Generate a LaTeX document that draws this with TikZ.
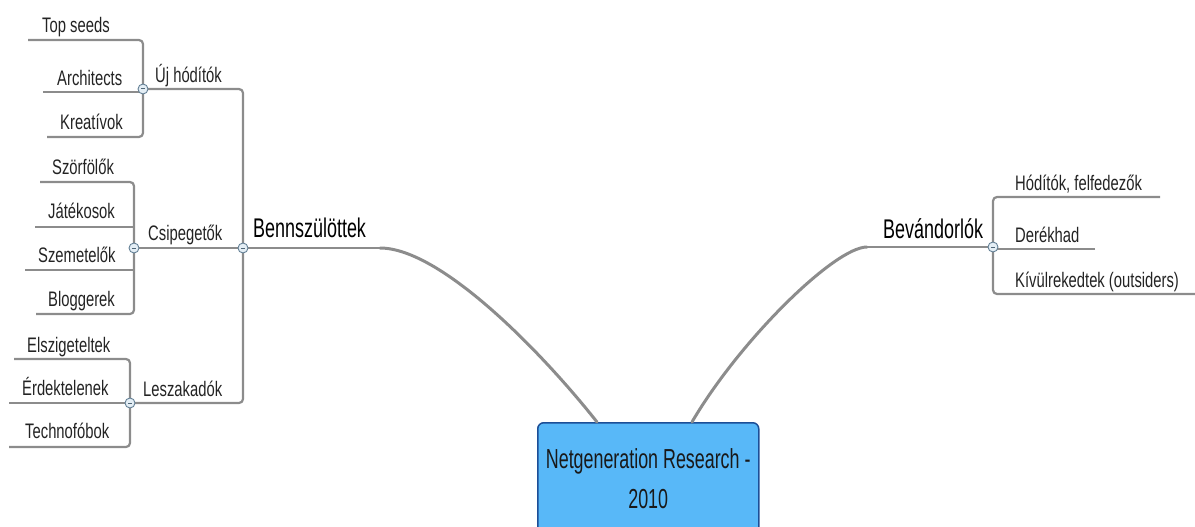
\documentclass[tikz,border=0pt]{standalone}
\usepackage{fontspec}
\setmainfont{Liberation Sans}
\newfontfamily\smallf[FakeStretch=0.705]{Liberation Sans}
\newfontfamily\bigf[FakeStretch=0.665]{Liberation Sans}
\newfontfamily\rootf[FakeStretch=0.65]{Liberation Sans}
\definecolor{linegray}{RGB}{140,140,140}
\definecolor{txtgray}{RGB}{35,35,35}
\definecolor{boxblue}{RGB}{88,184,248}
\definecolor{boxborder}{RGB}{28,78,150}
\definecolor{circfill}{RGB}{228,238,245}
\definecolor{circdraw}{RGB}{100,128,150}
\tikzset{
  lbl/.style={anchor=base west, inner sep=0pt, text=txtgray, font={\smallf\fontsize{21}{25}\selectfont}},
  biglbl/.style={anchor=base west, inner sep=0pt, text=black, font={\bigf\fontsize{27}{31}\selectfont}},
  branch/.style={draw=linegray, line width=2.2pt, rounded corners=4pt},
  mainline/.style={draw=linegray, line width=3pt, line cap=round},
  toggle/.style={circle, minimum size=10pt, inner sep=0pt, fill=circfill, draw=circdraw, line width=0.9pt,
    path picture={\draw[circdraw!80!black, line width=1pt] ([xshift=-2.2pt]path picture bounding box.center) -- ([xshift=2.2pt]path picture bounding box.center);}},
  rootbox/.style={rectangle, rounded corners=6pt, fill=boxblue, draw=boxborder, line width=1.5pt,
    minimum width=221pt, minimum height=112pt, anchor=north west, align=center, inner sep=0pt,
    font={\rootf\fontsize{27.5}{40}\selectfont}, text=black!90}
}
\begin{document}
\begin{tikzpicture}[x=1pt,y=-1pt]
\useasboundingbox (0,0) rectangle (1195,527);

% root
\node[rootbox] (root) at (537,422) {Netgeneration Research -\\2010};
\coordinate (rootL) at (597,422);
\coordinate (rootR) at (692,422);

% toggles (positions)
\coordinate (cBp) at (243,248);
\coordinate (cUp) at (143,89);
\coordinate (cCp) at (134,248);
\coordinate (cLp) at (130,403);
\coordinate (cRp) at (993,247);

% line end coordinates
\coordinate (bL) at (380,248);
\coordinate (bvL) at (867,247);
\coordinate (ts) at (28,40);
\coordinate (ar) at (43,92);
\coordinate (kr) at (47,137);
\coordinate (sz) at (40,182);
\coordinate (ja) at (35,227);
\coordinate (sm) at (25,270);
\coordinate (bl) at (36,314);
\coordinate (el) at (14,359);
\coordinate (er) at (9,403);
\coordinate (te) at (9,447);
\coordinate (ho) at (1160,197);
\coordinate (de) at (1095,249);
\coordinate (ki) at (1196,294);

% main curves
\draw[mainline] (rootL) .. controls (540,350) and (440,248) .. (bL);
\draw[branch, line width=2.6pt] (bL) -- (cBp);
\draw[mainline] (rootR) .. controls (740,340) and (835,247) .. (bvL);
\draw[branch, line width=2.6pt] (bvL) -- (cRp);

% left trunk
\draw[branch] (cUp) -| (cBp) |- (cLp);
\draw[branch] (cCp) -- (cBp);

% Uj hoditok group
\draw[branch] (ts) -| (cUp) |- (kr);
\draw[branch] (ar) -- (ar -| cUp);

% Csipegetok group
\draw[branch] (sz) -| (cCp) |- (bl);
\draw[branch] (ja) -- (ja -| cCp);
\draw[branch] (sm) -- (sm -| cCp);

% Leszakadok group
\draw[branch] (el) -| (cLp) |- (te);
\draw[branch] (er) -- (er -| cLp);

% right group
\draw[branch] (ho) -| (cRp) |- (ki);
\draw[branch] (de) -- (de -| cRp);

% toggles
\node[toggle] (cB) at (cBp) {};
\node[toggle] (cU) at (cUp) {};
\node[toggle] (cC) at (cCp) {};
\node[toggle] (cL) at (cLp) {};
\node[toggle] (cR) at (cRp) {};

% labels
\node[biglbl] (benn) at (253,237) {Bennszülöttek};
\node[biglbl] (bev) at (883,238) {Bevándorlók};

\node[lbl] (uj) at (155,82) {Új hódítók};
\node[lbl] (csip) at (148,240) {Csipegetők};
\node[lbl] (lesz) at (143,396) {Leszakadók};

\node[lbl] (tTop) at (42,33) {Top seeds};
\node[lbl] (tArch) at (57,85) {Architects};
\node[lbl] (tKre) at (60,129) {Kreatívok};

\node[lbl] (tSzo) at (52,174) {Szörfölők};
\node[lbl] (tJat) at (48,218) {Játékosok};
\node[lbl] (tSze) at (38,262) {Szemetelők};
\node[lbl] (tBlo) at (48,306) {Bloggerek};

\node[lbl] (tEls) at (27,352) {Elszigeteltek};
\node[lbl] (tErd) at (22,395) {Érdektelenek};
\node[lbl] (tTec) at (25,438) {Technofóbok};

\node[lbl] (tHod) at (1015,190) {Hódítók, felfedezők};
\node[lbl] (tDer) at (1015,242) {Derékhad};
\node[lbl] (tKiv) at (1015,287) {Kívülrekedtek (outsiders)};
\end{tikzpicture}
\end{document}
